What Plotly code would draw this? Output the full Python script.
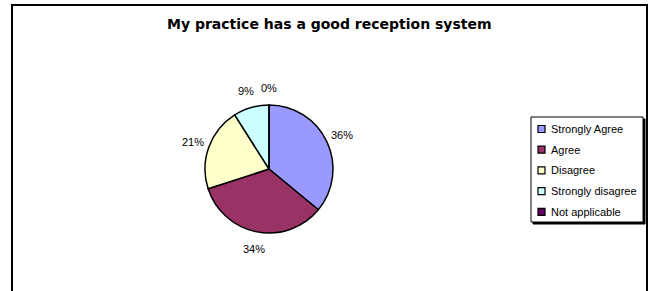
import math
import plotly.graph_objects as go

W, H = 652, 291

title = "My practice has a good reception system"
categories = ["Strongly Agree", "Agree", "Disagree", "Strongly disagree", "Not applicable"]
values = [36, 34, 21, 9, 0]
colors = ["#9999FF", "#993366", "#FFFFCC", "#CCFFFF", "#660066"]

# layout (pixels)
cx, cy, r = 269, 169, 64
FONT = "Liberation Sans, Arial, sans-serif"


def px(x):
    return x / W


def py(y):
    return 1 - y / H


fig = go.Figure()
fig.add_trace(go.Pie(
    labels=categories,
    values=values,
    marker=dict(colors=colors, line=dict(color="black", width=1.5)),
    sort=False,
    direction="clockwise",
    rotation=0,
    textinfo="none",
    hoverinfo="label+percent",
    showlegend=False,
    domain=dict(x=[px(cx - r), px(cx + r)], y=[py(cy + r), py(cy - r)]),
))

# percentage labels placed around the pie from the data
total = sum(values)
cum = 0
annotations = []
for v in values:
    mid = (cum + v / 2) / total * 2 * math.pi
    cum += v
    lr = r + 17
    x = cx + lr * math.sin(mid)
    y = cy - lr * math.cos(mid)
    annotations.append(dict(
        x=px(x), y=py(y), xref="paper", yref="paper",
        text=f"{round(v / total * 100)}%", showarrow=False,
        font=dict(family=FONT, size=11, color="black"),
        xanchor="center", yanchor="middle",
    ))

annotations.append(dict(
    x=px(329), y=py(24), xref="paper", yref="paper", text=title, showarrow=False,
    font=dict(family="DejaVu Sans, sans-serif", size=14, color="black", weight="bold"),
    xanchor="center", yanchor="middle",
))

shapes = [
    # outer frame
    dict(type="rect", xref="paper", yref="paper", x0=px(12), x1=px(647), y0=py(H + 10), y1=py(5),
         line=dict(color="black", width=2), fillcolor="rgba(0,0,0,0)", layer="below"),
    # legend shadow
    dict(type="rect", xref="paper", yref="paper", x0=px(533), x1=px(645), y0=py(224), y1=py(119),
         line=dict(color="black", width=1), fillcolor="black", layer="below"),
    # legend box
    dict(type="rect", xref="paper", yref="paper", x0=px(531), x1=px(643), y0=py(222), y1=py(117),
         line=dict(color="black", width=1), fillcolor="white", layer="below"),
]

# legend entries
row0, step = 129, 20.7
for i, (name, col) in enumerate(zip(categories, colors)):
    yc = row0 + i * step
    shapes.append(dict(type="rect", xref="paper", yref="paper",
                       x0=px(538), x1=px(545), y0=py(yc + 3.5), y1=py(yc - 3.5),
                       line=dict(color="black", width=1.2), fillcolor=col))
    annotations.append(dict(
        x=px(549), y=py(yc), xref="paper", yref="paper", text=name, showarrow=False,
        font=dict(family=FONT, size=11, color="black"),
        xanchor="left", yanchor="middle",
    ))

fig.update_layout(
    width=W, height=H,
    margin=dict(l=0, r=0, t=0, b=0),
    paper_bgcolor="white", plot_bgcolor="white",
    annotations=annotations,
    shapes=shapes,
    showlegend=False,
)

fig.write_html(
    "out.html",
    config={"displayModeBar": False},
    post_script="document.body.style.margin='0px';document.body.style.overflow='hidden';",
)
